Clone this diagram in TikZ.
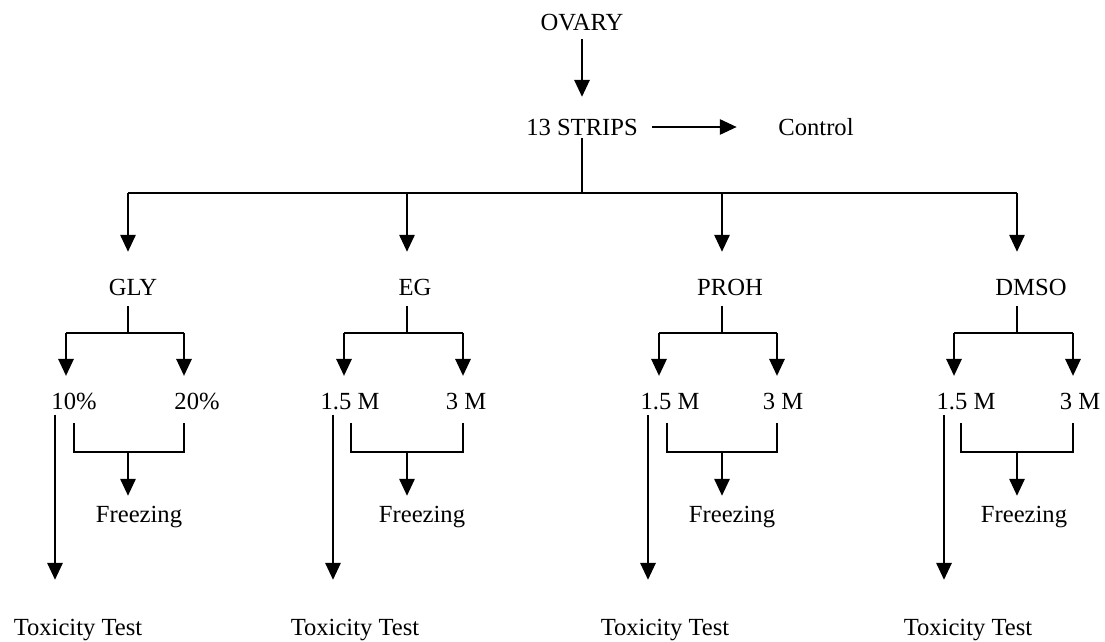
\documentclass[tikz,border=0pt]{standalone}
\usepackage{fontspec}
\setmainfont{Liberation Serif}
\usetikzlibrary{arrows.meta}

\tikzset{
  lbl/.style={inner sep=0pt, text height=12pt, text depth=0pt, font=\fontsize{17.5}{20}\selectfont},
  arr/.style={-{Triangle[length=12pt,width=11pt]}, line width=1pt},
  ln/.style={line width=1pt}
}

\begin{document}
\begin{tikzpicture}[x=0.025cm, y=-0.025cm]
    \useasboundingbox (0,0) rectangle (1105,642);

    % Draw top part
    \node[lbl] (ovary) at (582,22) {OVARY};
    \node[lbl] (strips) at (582,127) {13 STRIPS};
    \node[lbl] (control) at (816,127) {Control};
    \draw[arr, shorten <=6pt, shorten >=15.3pt] (ovary) -- (strips);
    \draw[arr, shorten <=10pt, shorten >=29.5pt] (strips) -- (control);

    % Draw the four treatments
    \node[lbl] (gly) at (133,287) {GLY};
    \node[lbl] (eg) at (415,287) {EG};
    \node[lbl] (proh) at (730,287) {PROH};
    \node[lbl] (dmso) at (1031,287) {DMSO};

    \coordinate (hub) at (582,193);
    \coordinate (bg) at (128,193);
    \coordinate (be) at (407,193);
    \coordinate (bp) at (722,193);
    \coordinate (bd) at (1017,193);
    \draw[ln, shorten <=1.8pt] (strips) -- (hub);
    \draw[ln] (bg) -- (bd);
    \draw[arr, shorten >=18.9pt] (bg) -- (bg |- gly.north);
    \draw[arr, shorten >=18.9pt] (be) -- (be |- eg.north);
    \draw[arr, shorten >=18.9pt] (bp) -- (bp |- proh.north);
    \draw[arr, shorten >=18.9pt] (bd) -- (bd |- dmso.north);

    % GLY branch
    \node[lbl] (g10) at (74,401) {10\%};
    \node[lbl] (g20) at (197,401) {20\%};
    \node[lbl] (gfrz) at (139,514) {Freezing};
    \node[lbl] (gtox) at (78,627) {Toxicity Test};
    \coordinate (gv) at (128,333);
    \coordinate (gl) at (66,333);
    \coordinate (gr) at (184,333);
    \coordinate (gbl) at (74,452);
    \coordinate (gbr) at (184,452);
    \coordinate (gb) at (128,452);
    \coordinate (gt) at (55,415);
    \draw[ln, shorten <=7.5pt] (gv |- gly.south) -- (gv);
    \draw[ln] (gl) -- (gr);
    \draw[arr, shorten >=11.7pt] (gl) -- (gl |- g10.north);
    \draw[arr, shorten >=11.7pt] (gr) -- (gr |- g20.north);
    \draw[ln, shorten <=9.6pt, shorten >=9.6pt] (gbl |- g10.south) -- (gbl) -- (gbr) -- (gbr |- g20.south);
    \draw[arr, shorten >=6.8pt] (gb) -- (gb |- gfrz.north);
    \draw[arr, shorten >=27.4pt] (gt) -- (gt |- gtox.north);

    % EG branch
    \node[lbl] (e15) at (350,401) {1.5 M};
    \node[lbl] (e3) at (466,401) {3 M};
    \node[lbl] (efrz) at (422,514) {Freezing};
    \node[lbl] (etox) at (355,627) {Toxicity Test};
    \coordinate (ev) at (407,333);
    \coordinate (el) at (344,333);
    \coordinate (er) at (463,333);
    \coordinate (ebl) at (351,452);
    \coordinate (ebr) at (463,452);
    \coordinate (eb) at (407,452);
    \coordinate (et) at (333,415);
    \draw[ln, shorten <=7.5pt] (ev |- eg.south) -- (ev);
    \draw[ln] (el) -- (er);
    \draw[arr, shorten >=11.7pt] (el) -- (el |- e15.north);
    \draw[arr, shorten >=11.7pt] (er) -- (er |- e3.north);
    \draw[ln, shorten <=9.6pt, shorten >=9.6pt] (ebl |- e15.south) -- (ebl) -- (ebr) -- (ebr |- e3.south);
    \draw[arr, shorten >=6.8pt] (eb) -- (eb |- efrz.north);
    \draw[arr, shorten >=27.4pt] (et) -- (et |- etox.north);

    % PROH branch
    \node[lbl] (p15) at (670,401) {1.5 M};
    \node[lbl] (p3) at (783,401) {3 M};
    \node[lbl] (pfrz) at (732,514) {Freezing};
    \node[lbl] (ptox) at (665,627) {Toxicity Test};
    \coordinate (pv) at (722,333);
    \coordinate (pl) at (659,333);
    \coordinate (pr) at (777,333);
    \coordinate (pbl) at (667,452);
    \coordinate (pbr) at (777,452);
    \coordinate (pb) at (722,452);
    \coordinate (pt) at (648,415);
    \draw[ln, shorten <=7.5pt] (pv |- proh.south) -- (pv);
    \draw[ln] (pl) -- (pr);
    \draw[arr, shorten >=11.7pt] (pl) -- (pl |- p15.north);
    \draw[arr, shorten >=11.7pt] (pr) -- (pr |- p3.north);
    \draw[ln, shorten <=9.6pt, shorten >=9.6pt] (pbl |- p15.south) -- (pbl) -- (pbr) -- (pbr |- p3.south);
    \draw[arr, shorten >=6.8pt] (pb) -- (pb |- pfrz.north);
    \draw[arr, shorten >=27.4pt] (pt) -- (pt |- ptox.north);

    % DMSO branch
    \node[lbl] (d15) at (966,401) {1.5 M};
    \node[lbl] (d3) at (1080,401) {3 M};
    \node[lbl] (dfrz) at (1024,514) {Freezing};
    \node[lbl] (dtox) at (968,627) {Toxicity Test};
    \coordinate (dv) at (1017,333);
    \coordinate (dl) at (954,333);
    \coordinate (dr) at (1073,333);
    \coordinate (dbl) at (961,452);
    \coordinate (dbr) at (1073,452);
    \coordinate (db) at (1017,452);
    \coordinate (dt) at (944,415);
    \draw[ln, shorten <=7.5pt] (dv |- dmso.south) -- (dv);
    \draw[ln] (dl) -- (dr);
    \draw[arr, shorten >=11.7pt] (dl) -- (dl |- d15.north);
    \draw[arr, shorten >=11.7pt] (dr) -- (dr |- d3.north);
    \draw[ln, shorten <=9.6pt, shorten >=9.6pt] (dbl |- d15.south) -- (dbl) -- (dbr) -- (dbr |- d3.south);
    \draw[arr, shorten >=6.8pt] (db) -- (db |- dfrz.north);
    \draw[arr, shorten >=27.4pt] (dt) -- (dt |- dtox.north);

\end{tikzpicture}
\end{document}
